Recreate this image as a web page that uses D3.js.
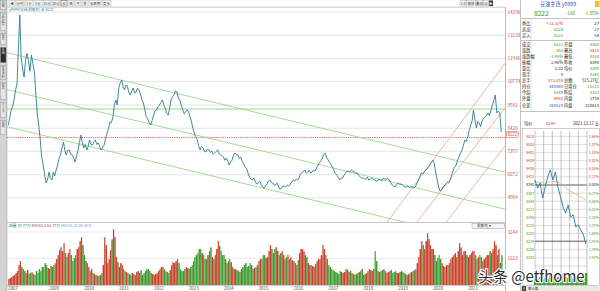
<!DOCTYPE html>
<html><head><meta charset="utf-8">
<script src="https://cdn.jsdelivr.net/npm/d3@7"></script>
<style>
html,body{margin:0;padding:0;background:#fff;overflow:hidden;}
svg{display:block;font-family:"Noto Sans CJK SC","Noto Sans",sans-serif;}
</style></head><body>
<svg id="c" width="600" height="291"></svg>
<script>
// ---------- DATA ----------
const startYear = 2007, startMonth = 10; // Nov 2007; one value on the 1st and one mid-month
const closePrices = [ // 1st of month
 8584, 9341,
 9846,10705,14139,11361,11900,11765,12118,11260, 9089, 7826, 6564, 5654,
 6210, 5806, 6008, 6564, 7069, 7725, 7069, 7321, 7069, 6715, 7321, 8079,
 7422, 7321, 7826, 7574, 7826, 7675, 7321, 7574, 8180, 8735, 8988, 9846,
10452,10856,10351,10553,10099,10452,10250,10351, 9846, 9341, 8887, 8584,
 9089, 9341, 9594, 9846, 9442, 9089, 9846,10099,10250, 9846, 9341, 9240,
 9240, 8735, 8180, 7826, 7321, 7422, 7220, 7321, 7270, 7170, 7321, 7069,
 6968, 6917, 6564, 6817, 7170, 7069, 6968, 6614, 6362, 5958, 5806, 5705,
 5654, 5554, 5402, 5604, 5806, 5654, 5554, 5453, 5402, 5503, 5554, 5604,
 5806, 5857, 5907, 6160, 6311, 6210, 6160, 6311, 6412, 6665, 6917, 7170,
 6816, 6564, 6311, 6059, 5806, 5907, 6160, 6261, 6311, 6210, 6160, 5958,
 5907, 5857, 5806, 5907, 5806, 5755, 5806, 5907, 5857, 5806, 5554, 5453,
 5654, 5604, 5503, 5453, 5402, 5453, 5453, 5806, 6160, 6210, 6362, 6564,
 6816, 6160, 5453, 5301, 5503, 5705, 5806, 6311, 6564, 6968, 7322, 7826,
 7978, 8584, 9341, 8432, 8685, 8838, 8988, 9190, 9341, 9846, 9190, 9200];
const midPrices = [ // mid-month (last one: 2021-12-17)
 8900, 9500,
10300,12400,12000,11000,12200,11300,11700,10200, 8600, 7000, 6100, 5800,
 5900, 6200, 6300, 6900, 7400, 7300, 7300, 7100, 6900, 7000, 7700, 7700,
 7600, 7500, 7600, 7750, 7600, 7500, 7450, 7900, 8400, 8700, 9600, 9600,
10700,10500,10600,10250,10300,10200,10450,10150, 9700, 9000, 8700, 8800,
 9300, 9500, 9700, 9600, 9200, 9400,10000,10300, 9950, 9600, 9150, 9350,
 9000, 8400, 8000, 7550, 7500, 7250, 7350, 7200, 7100, 7250, 7150, 7050,
 6800, 6750, 6700, 7050, 7100, 6900, 6750, 6450, 6150, 5850, 5900, 5600,
 5750, 5450, 5500, 5750, 5700, 5550, 5650, 5350, 5500, 5450, 5500, 5700,
 5750, 5800, 6100, 6250, 6150, 6300, 6200, 6250, 6550, 6750, 7100, 6950,
 6700, 6450, 6150, 5950, 5900, 6050, 6250, 6200, 6250, 6150, 6050, 5900,
 5850, 5950, 5850, 5850, 5750, 5850, 5750, 5850, 5900, 5700, 5500, 5550,
 5600, 5550, 5450, 5500, 5450, 5400, 5600, 5950, 6100, 6300, 6450, 6700,
 6650, 5800, 5250, 5450, 5600, 5650, 6050, 6450, 6800, 7150, 7550, 7750,
 8300, 8800, 8900, 8750, 8500, 8900, 9050, 9050, 9600,10099, 9290, 8222];
const volumes = [ // 万手, first half of month
  366, 488,
  610, 854,1464, 976, 732, 671, 793, 610, 732, 854,1098,1220,
  976,1098,1342,1830,2318,2562,1708,2196,1464,1830,2318,2928,
 1830,1342, 854, 732, 610, 549, 732,2928,1342,2135,3416,1708,
 1098,1220, 854, 732, 610, 671, 793, 732, 610, 854, 976, 732,
  610, 732, 976,1098, 854, 732,1220,1342,1586, 976, 854,1098,
  976,1220,1708,1952,2196,1830,1586,2074,1708,1830,2684,2074,
 1830,1342,1586,1098, 976, 854, 976,1220,1098,1342, 976,1098,
 1464,1586,1830,1708,2440,1952,2318,1830,2074,1586,1830,1708,
 1464,1220,1952,2196,1830,1342,1220,1098,1464,1586,2440,1830,
 1220, 976, 854, 732, 854, 732, 976, 793, 732, 610, 732, 854,
  610, 732, 976, 854,2074, 854, 854, 976, 732, 854, 732, 854,
  732, 854, 732, 610, 732, 854, 976,1708,2684,2196,3172,2440,
 2196,1464,1830,1342,1098,1220,1586,1830,1708,2562,1830,2074,
 1708,1952,2074,1586,1830,1464,1708,1830,1952,2684,1830,1342];
const midVolumes = [ // 万手, second half of month
  430, 560,
  732,1220,1100, 854, 915, 732, 671, 854, 976,1098,1342,1040,
 1160,1220,1586,2135,2074,1950,1950,1830,1650,2196,2684,2440,
 1464,1098, 976, 671, 580, 610,1220,2440,1586,2800,2930,1400,
 1340, 976, 793, 671, 732, 610, 854, 900, 732, 976, 854, 671,
  671, 854,1100, 976, 793, 915,1400,1464,1340, 854, 976,1040,
 1098,1464,1830,2196,1950,1586,1830,2300,1586,2196,2400,1830,
 1586,1464,1400, 976, 915, 793,1098,1340,1160,1220,1040,1220,
 1586,1830,1650,2074,2196,2196,2074,1950,1830,1700,1586,1520,
 1340,1520,2196,2074,1700,1220,1160,1280,1586,1830,2196,1586,
 1098, 915, 793, 671, 793, 793, 915, 854, 671, 671, 793, 976,
  671, 854, 915, 976,1464, 793, 915, 854, 793, 915, 793, 732,
  793, 793, 671, 671, 793, 915,1340,2196,2440,2684,2800,2196,
 1830,1650,1586,1160,1220,1340,1700,1950,2074,2300,2074,1830,
 1830,2074,1830,1700,1700,1586,1830,2074,2196,2440,2196,1830];
const priceTicks = [14290,13120,11946,10774,9592,8420,7257,6072,4904];
const volumeTicks = [3244,1622];
const yearLabels = ["2007","2009","2010","2011","2012","2013","2014","2015","2016","2017","2018","2019","2020","2021"];
const lastPrice = 8222;
// trend lines: [startDate, startPrice, endDate, endPrice]
const greenChannels = [
 ["2007-10-19",12235,"2022-01-25",6200],
 ["2007-10-19",10366,"2022-01-25",4331],
 ["2007-10-19", 8498,"2022-01-25",2463]];
const redChannels = [
 ["2018-09-10",3685,"2022-01-25",11700],
 ["2019-07-20",3685,"2022-01-25",9457],
 ["2020-05-20",3685,"2022-01-25",7533]];
const greenLevel = 9392, redLevel = 7950;
// right panel quote
const quoteTop = [["委比","+33.33%","","27"],["卖出","8224","","27"],["买入","8222","","54"]];
const quoteRows = [
 ["成交","8222","开盘","8360"],["涨跌","-168","最高","8418"],["涨跌幅","-1.95%","最低","8168"],
 ["振幅","2.98%","昨收","8390"],["量比","1.02","均价","8290"],["现手","5","","8340"],
 ["总手","873,876","总额","515.27亿"],["持仓","440560","日增仓","-13111"],["今结","8349","昨结","8382"],
 ["外盘","8968","内盘","1759"],["仓差","280520","内盘","220415"]];
const minutePrices = [8404,8381,8396,8353,8384,8413,8433,8404,8427,8384,8356,8328,8310,8333,8299,8305,8271,8276,8262,8248,8222];
const minuteAvg    = [8400,8398,8398,8396,8395,8397,8399,8400,8400,8398,8394,8388,8382,8376,8372,8368,8364,8360,8356,8352,8347];
const minuteVol    = [9,6,8,5,7,6,10,7,6,8,9,11,8,7,9,6,8,7,9,10,12];
const prevClose = 8390;
const toolbarLabels = ["◀","分时","1分","5分","15分","30分","日","周","月","季","多周期","更多"];
const toolbarRight = ["1.0","缩放","叠加","设","▶"];
const sideTabs = ["功能","分时走势","技术","K线","基本资料","财务","F10","自选"];

// ---------- SETUP ----------
const svg = d3.select("#c");
const RED="#d8372a", GREEN="#2f9a2a", BLUE="#1f4fb4";
const parse = d3.timeParse("%Y-%m-%d");
const series = [];
closePrices.forEach((p,i)=>{
  series.push({date:new Date(startYear,startMonth+i,1), close:p, vol:volumes[i]});
  const last = i===closePrices.length-1;
  series.push({date:new Date(startYear,startMonth+i,last?17:15), close:midPrices[i], vol:midVolumes[i]});
});
const x = d3.scaleTime().domain([new Date(2007,9,19), new Date(2022,0,25)]).range([7,505]);
const y = d3.scaleLinear().domain([3685,14290]).range([222,12]);
const yv = d3.scaleLinear().domain([0,3244]).range([285,232]);

// left side strip
svg.append("rect").attr("x",0).attr("y",0).attr("width",6.5).attr("height",291).attr("fill","#d4d4d4");
const tabPos=[[0,10],[12,31],[33,45],[47,63],[65,80],[82,100],[102,118],[120,135]];
sideTabs.forEach((t,i)=>{
  const [a,b]=tabPos[i];
  svg.append("rect").attr("x",0.5).attr("y",a+0.5).attr("width",5.5).attr("height",b-a-1)
    .attr("fill", i===3?"#2a2a2a":"#e6e6e6").attr("stroke","#8a8a8a").attr("stroke-width",0.4);
  const tx = svg.append("text").attr("font-size",2.9).attr("fill", i===3?"#fff":"#444").attr("text-anchor","middle");
  [...t].forEach((ch,k)=> tx.append("tspan").attr("x",3.2).attr("y",a+3.8+k*3.2).text(ch));
});
svg.append("line").attr("x1",6.8).attr("x2",6.8).attr("y1",0).attr("y2",291).attr("stroke","#888").attr("stroke-width",0.6);

// top toolbar
const tbW=[6,8,8,8,8,8,6,6,6,6,12,9];
let tx0=9;
toolbarLabels.forEach((t,i)=>{
  svg.append("rect").attr("x",tx0).attr("y",0.5).attr("width",tbW[i]).attr("height",5.5)
    .attr("fill","#fafafa").attr("stroke", i===6?"#222":"#999").attr("stroke-width",0.4);
  svg.append("text").attr("x",tx0+tbW[i]/2).attr("y",4.6).attr("font-size",3.4).attr("text-anchor","middle").attr("fill","#333").text(t);
  tx0+=tbW[i]+1;
});
const trW=[6,9,7,5,4]; let rx0=460;
toolbarRight.forEach((t,i)=>{
  svg.append("rect").attr("x",rx0).attr("y",0.5).attr("width",trW[i]).attr("height",5.5)
    .attr("fill", i===4?"#333":"#fafafa").attr("stroke","#999").attr("stroke-width",0.4);
  svg.append("text").attr("x",rx0+trW[i]/2).attr("y",4.6).attr("font-size",3.4).attr("text-anchor","middle").attr("fill",i===4?"#fff":"#333").text(t);
  rx0+=trW[i]+0.5;
});
svg.append("line").attr("x1",7).attr("x2",505).attr("y1",7.2).attr("y2",7.2).attr("stroke","#aaa").attr("stroke-width",0.6);
svg.append("text").attr("x",9).attr("y",10.6).attr("font-size",3.6).attr("fill","#2b8a9a").text("y9999(日线,前复权)  收 8222");

// price gridlines
svg.append("g").selectAll("line").data(priceTicks).join("line")
  .attr("x1",7).attr("x2",505).attr("y1",d=>y(d)).attr("y2",d=>y(d))
  .attr("stroke","#dedede").attr("stroke-width",0.8);

// clip
svg.append("clipPath").attr("id","clipMain").append("rect").attr("x",7).attr("y",8).attr("width",498).attr("height",214);
const gm = svg.append("g").attr("clip-path","url(#clipMain)");

gm.append("line").attr("x1",7).attr("x2",505).attr("y1",y(greenLevel)).attr("y2",y(greenLevel)).attr("stroke","#8fd07c").attr("stroke-width",0.9);
gm.append("line").attr("x1",7).attr("x2",505).attr("y1",y(redLevel)).attr("y2",y(redLevel)).attr("stroke","#e04040").attr("stroke-width",0.8).attr("stroke-dasharray","1.2,1");

gm.selectAll("line.gc").data(greenChannels).join("line").attr("class","gc")
  .attr("x1",d=>x(parse(d[0]))).attr("y1",d=>y(d[1])).attr("x2",d=>x(parse(d[2]))).attr("y2",d=>y(d[3]))
  .attr("stroke","#9dd78c").attr("stroke-width",0.9);
gm.selectAll("line.rc").data(redChannels).join("line").attr("class","rc")
  .attr("x1",d=>x(parse(d[0]))).attr("y1",d=>y(d[1])).attr("x2",d=>x(parse(d[2]))).attr("y2",d=>y(d[3]))
  .attr("stroke","#e3a396").attr("stroke-width",0.8);

// price line
gm.append("path").datum(series)
  .attr("d", d3.line().x(d=>x(d.date)).y(d=>y(d.close)))
  .attr("fill","none").attr("stroke","#2d7c92").attr("stroke-width",0.9).attr("stroke-linejoin","round");

// frames
svg.append("line").attr("x1",505.5).attr("x2",505.5).attr("y1",7).attr("y2",291).attr("stroke","#999").attr("stroke-width",0.7);
svg.append("line").attr("x1",7).attr("x2",505).attr("y1",222.5).attr("y2",222.5).attr("stroke","#aaa").attr("stroke-width",0.7);
svg.append("line").attr("x1",7).attr("x2",505).attr("y1",285.5).attr("y2",285.5).attr("stroke","#aaa").attr("stroke-width",0.6);

// right axis labels
svg.append("g").selectAll("text").data(priceTicks).join("text")
  .attr("x",507.5).attr("y",d=>y(d)+1.6).attr("font-size",4.6).attr("fill","#c0504d").text(d=>d);
svg.append("rect").attr("x",506.5).attr("y",131.8).attr("width",12).attr("height",5.6).attr("fill","#fff").attr("stroke","#d84040").attr("stroke-width",0.5);
svg.append("text").attr("x",507.5).attr("y",136.2).attr("font-size",4.4).attr("fill","#d02020").text(lastPrice);

// volume panel
svg.append("g").selectAll("line").data(volumeTicks).join("line")
  .attr("x1",7).attr("x2",505).attr("y1",d=>yv(d)).attr("y2",d=>yv(d)).attr("stroke","#e0e0e0").attr("stroke-width",0.7);
svg.append("g").selectAll("text").data(volumeTicks).join("text")
  .attr("x",507.5).attr("y",d=>yv(d)+1.6).attr("font-size",4.6).attr("fill","#c0504d").text(d=>d);
svg.append("g").selectAll("rect").data(series).join("rect")
  .attr("x",d=>x(d.date))
  .attr("width",(d,i)=>{ const nx = i<series.length-1 ? x(series[i+1].date) : x(d.date)+1.4; return Math.max(0.5, nx-x(d.date)-0.15); })
  .attr("y",d=>yv(d.vol)).attr("height",d=>yv(0)-yv(d.vol))
  .attr("fill",(d,i)=> i===0 || d.close>=series[i-1].close ? "#c8402c" : "#3d9a30");
const lg = svg.append("text").attr("x",9).attr("y",227.3).attr("font-size",3.8);
lg.append("tspan").attr("fill","#2f8a2a").text("成量 53.77万  ");
lg.append("tspan").attr("fill","#a0522d").text("MAVOL5 53.77万  ");
lg.append("tspan").attr("fill","#5b9bd5").text("MAVOL20 59.33万");
svg.append("rect").attr("x",472).attr("y",223.2).attr("width",32.5).attr("height",5.5).attr("fill","#f6f6f6").attr("stroke","#888").attr("stroke-width",0.4);
svg.append("text").attr("x",477).attr("y",227.3).attr("font-size",3.6).attr("fill","#333").text("前复权        ▾");

// year labels
svg.append("g").selectAll("text").data(yearLabels).join("text")
  .attr("x",d=> d==="2007" ? 8 : x(new Date(+d,0,1))+0.3)
  .attr("y",289.6).attr("font-size",4.4).attr("fill","#444").text(d=>d);

// ---------- right info panel ----------
svg.append("line").attr("x1",520.5).attr("x2",520.5).attr("y1",0).attr("y2",291).attr("stroke","#999").attr("stroke-width",0.6);
svg.append("text").attr("x",558).attr("y",6.2).attr("font-size",5.2).attr("text-anchor","middle").attr("fill",BLUE).text("豆油主连 y9999");
svg.append("rect").attr("x",595).attr("y",1).attr("width",4.5).attr("height",6).attr("fill","#f0c020");
svg.append("text").attr("x",534).attr("y",15.5).attr("font-size",6.6).attr("fill",GREEN).text("8222");
svg.append("text").attr("x",575).attr("y",15).attr("font-size",4.6).attr("text-anchor","end").attr("fill",GREEN).text("-168");
svg.append("text").attr("x",599).attr("y",15).attr("font-size",4.6).attr("text-anchor","end").attr("fill",GREEN).text("-1.95%");
[18.5,40.5,111.5].forEach(v=> svg.append("line").attr("x1",521).attr("x2",600).attr("y1",v).attr("y2",v).attr("stroke","#999").attr("stroke-width",0.6));
svg.append("line").attr("x1",531).attr("x2",531).attr("y1",19).attr("y2",111).attr("stroke","#bbb").attr("stroke-width",0.4);
function valColor(s){ if(/^-/.test(s)) return GREEN; if(/^\+/.test(s)) return RED; return null; }
function quoteRow(r,yy){
  svg.append("text").attr("x",522).attr("y",yy).attr("font-size",4.2).attr("fill","#222").text(r[0]);
  const c1 = valColor(r[1]) || (["8224","8222","8349"].includes(r[1])? GREEN : (["440560","280520"].includes(r[1])?BLUE:(["873,876","8968"].includes(r[1])?RED:"#222")));
  svg.append("text").attr("x",563).attr("y",yy).attr("font-size",4.2).attr("text-anchor","end").attr("fill",c1).text(r[1]);
  svg.append("text").attr("x",564).attr("y",yy).attr("font-size",4.2).attr("fill","#222").text(r[2]);
  const v=+r[3];
  const c2 = valColor(r[3]) || (v>8390 && v<9000 ? RED : (v>5000 && v<8390 ? GREEN : "#222"));
  svg.append("text").attr("x",599).attr("y",yy).attr("font-size",4.2).attr("text-anchor","end").attr("fill",c2).text(r[3]);
}
quoteTop.forEach((r,i)=>quoteRow(r,24.5+i*6.3));
quoteRows.forEach((r,i)=>quoteRow(r,45.5+i*6.1));
svg.append("text").attr("x",524).attr("y",124.5).attr("font-size",4.2).attr("fill","#222").text("均价");
svg.append("text").attr("x",546).attr("y",124.5).attr("font-size",4.2).attr("fill",RED).text("8290");
svg.append("text").attr("x",599).attr("y",124.5).attr("font-size",4.2).attr("text-anchor","end").attr("fill","#222").text("2021.12.17 五");

// minute chart
const mx = d3.scaleLinear().domain([0,minutePrices.length-1]).range([535,586]);
const my = d3.scaleLinear().domain([prevClose-23*10, prevClose+23*6]).range([266,136.4]);
const levels = d3.range(6,-11,-1);
const labelLevels = d3.range(6,-10,-1);
svg.append("rect").attr("x",522.5).attr("y",128.5).attr("width",77).attr("height",157).attr("fill","none").attr("stroke","#999").attr("stroke-width",0.5);
svg.append("g").selectAll("line").data(levels).join("line")
  .attr("x1",535).attr("x2",587).attr("y1",n=>my(prevClose+23*n)).attr("y2",n=>my(prevClose+23*n))
  .attr("stroke",n=>n===0?"#333":"#aaa").attr("stroke-width",n=>n===0?0.8:0.4);
svg.append("g").selectAll("line").data([535,543.7,552.3,561,569.7,578.3,587]).join("line")
  .attr("x1",d=>d).attr("x2",d=>d).attr("y1",131).attr("y2",285).attr("stroke","#888").attr("stroke-width",0.5);
svg.append("line").attr("x1",535).attr("x2",587).attr("y1",my(lastPrice)-3).attr("y2",my(lastPrice)-3).attr("stroke","#333").attr("stroke-width",0.7);
svg.append("g").selectAll("text").data(labelLevels).join("text")
  .attr("x",534).attr("y",n=>my(prevClose+23*n)+1.4).attr("font-size",3.6).attr("text-anchor","end")
  .attr("fill",n=>n>0?RED:(n<0?GREEN:"#222")).text(n=>prevClose+23*n);
svg.append("g").selectAll("text").data(labelLevels).join("text")
  .attr("x",599).attr("y",n=>my(prevClose+23*n)+1.4).attr("font-size",3.6).attr("text-anchor","end")
  .attr("fill",n=>n>0?RED:(n<0?GREEN:"#222")).text(n=>(Math.abs(n)*0.274).toFixed(2)+"%");
svg.append("path").datum(minuteAvg).attr("d",d3.line().x((d,i)=>mx(i)).y(d=>my(d)))
  .attr("fill","none").attr("stroke","#e8b088").attr("stroke-width",0.8);
svg.append("path").datum(minutePrices).attr("d",d3.line().x((d,i)=>mx(i)).y(d=>my(d)))
  .attr("fill","none").attr("stroke","#2a7890").attr("stroke-width",0.9);
const mv = d3.scaleLinear().domain([0,13]).range([285,272]);
svg.append("g").selectAll("rect").data(minuteVol).join("rect")
  .attr("x",(d,i)=>mx(i)-1.2).attr("width",2.4).attr("y",d=>mv(d)).attr("height",d=>285-mv(d)).attr("fill","#3aa030");
svg.append("rect").attr("x",521).attr("y",286).attr("width",79).attr("height",5).attr("fill","#e8e8e8");
svg.append("rect").attr("x",522).attr("y",286.3).attr("width",4).attr("height",4.4).attr("fill","#111");
svg.append("text").attr("x",524).attr("y",289.8).attr("font-size",3.4).attr("text-anchor","middle").attr("fill","#fff").text("M");
svg.append("text").attr("x",528).attr("y",289.8).attr("font-size",3.4).attr("fill","#222").text("周上版");

// watermark
svg.append("text").attr("x",478).attr("y",281.5).attr("font-size",15).attr("font-family","Noto Sans CJK SC")
  .attr("fill","#2a2a2a").attr("stroke","#fff").attr("stroke-width",2.2).attr("paint-order","stroke").text("头条 @etfhome");
</script>
</body></html>
